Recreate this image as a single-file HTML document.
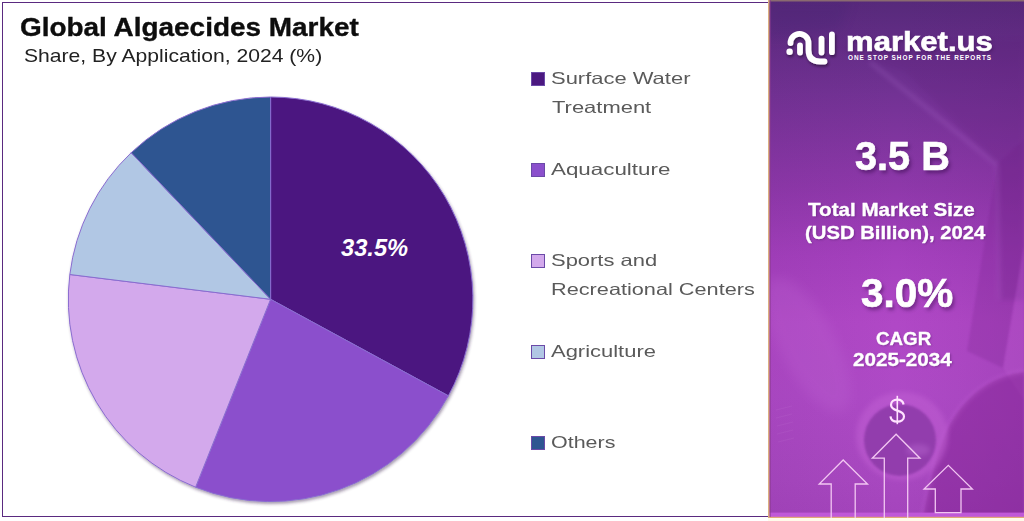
<!DOCTYPE html>
<html><head><meta charset="utf-8">
<style>
*{margin:0;padding:0;box-sizing:border-box}
html,body{width:1024px;height:521px;overflow:hidden;background:#fff;font-family:"Liberation Sans",sans-serif}
#left{position:absolute;left:1.6px;top:1.5px;width:768px;height:515.4px;border:1.5px solid #5a2a80;border-right:none;background:#fff}
.t{position:absolute;white-space:nowrap;line-height:1}
#title{left:20px;top:15.4px;font-size:25.2px;-webkit-text-stroke:0.35px #0d0d0d;font-weight:bold;color:#0d0d0d;transform:scaleX(1.1085);transform-origin:0 0}
#sub{left:24px;top:48.2px;font-size:17.7px;color:#222;transform:scaleX(1.194);transform-origin:0 0}
.lg{position:absolute;width:14px;height:14px;border:1px solid #6b4aa8}
.lt{position:absolute;white-space:nowrap;line-height:1;font-size:16.5px;color:#5a5a5a;transform:scaleX(1.33);transform-origin:0 0}
#right{position:absolute;left:768px;top:0;width:256px;height:521px;overflow:hidden;
 background:linear-gradient(180deg,#56236f 0%,#6a3090 18%,#8838a8 38%,#a03cba 57%,#a844c0 77%,#9a3aac 100%)}
.w{position:absolute;white-space:nowrap;line-height:1;color:#fff;font-weight:bold;transform-origin:0 0}
.big{text-shadow:2px 3px 4px rgba(40,0,60,0.45);-webkit-text-stroke:0.7px #fff}
.sm{text-shadow:1px 1px 2px rgba(40,0,60,0.3);-webkit-text-stroke:0.35px #fff}
.bg{position:absolute;left:0;top:0;width:256px;height:521px}
</style></head><body>
<div id="left"></div>
<div class="t" id="title">Global Algaecides Market</div>
<div class="t" id="sub">Share, By Application, 2024 (%)</div>

<svg style="position:absolute;left:0;top:0" width="768" height="521" viewBox="0 0 768 521">
<defs><filter id="sh" x="-10%" y="-10%" width="120%" height="120%"><feDropShadow dx="1" dy="2" stdDeviation="1.8" flood-color="#3a2050" flood-opacity="0.45"/></filter></defs>
<g filter="url(#sh)" stroke="#8a6cd0" stroke-width="1" stroke-linejoin="round">
<path fill="#4b1880" d="M270.6,299.3 L270.60,97.00 A202.3,202.3 0 0 1 448.38,395.83 Z"/>
<path fill="#8b50cc" d="M270.6,299.3 L448.38,395.83 A202.3,202.3 0 0 1 195.60,487.19 Z"/>
<path fill="#d3a9ec" d="M270.6,299.3 L195.60,487.19 A202.3,202.3 0 0 1 69.83,274.51 Z"/>
<path fill="#b1c7e4" d="M270.6,299.3 L69.83,274.51 A202.3,202.3 0 0 1 131.17,152.73 Z"/>
<path fill="#2e5591" d="M270.6,299.3 L131.17,152.73 A202.3,202.3 0 0 1 270.60,97.00 Z"/>
</g>
<text x="341" y="256.2" font-family="Liberation Sans" font-weight="bold" font-style="italic" font-size="23.7" fill="#fff">33.5%</text>
</svg>

<div class="lg" style="left:531px;top:72px;background:#4b1880"></div>
<div class="lt" style="left:551px;top:70px">Surface Water</div>
<div class="lt" style="left:552px;top:99px">Treatment</div>
<div class="lg" style="left:531px;top:163px;background:#8b50cc"></div>
<div class="lt" style="left:551px;top:161px;transform:scaleX(1.355)">Aquaculture</div>
<div class="lg" style="left:531px;top:254px;background:#d3a9ec"></div>
<div class="lt" style="left:551px;top:252px">Sports and</div>
<div class="lt" style="left:551px;top:281px;transform:scaleX(1.315)">Recreational Centers</div>
<div class="lg" style="left:531px;top:345px;background:#b1c7e4"></div>
<div class="lt" style="left:551px;top:343px">Agriculture</div>
<div class="lg" style="left:531px;top:436px;background:#2e5591"></div>
<div class="lt" style="left:551px;top:434px;transform:scaleX(1.30)">Others</div>

<div id="right">
<svg class="bg" width="256" height="521" viewBox="768 0 256 521">
<defs>
<linearGradient id="gv" x1="0" y1="0" x2="0" y2="521" gradientUnits="userSpaceOnUse">
<stop offset="0" stop-color="#56297a"/>
<stop offset="0.18" stop-color="#723294"/>
<stop offset="0.36" stop-color="#8e38aa"/>
<stop offset="0.49" stop-color="#a440bd"/>
<stop offset="0.62" stop-color="#b048c6"/>
<stop offset="0.76" stop-color="#ae4ac6"/>
<stop offset="0.92" stop-color="#a848c0"/>
<stop offset="1" stop-color="#a444bc"/>
</linearGradient>
<linearGradient id="gr" x1="768" y1="0" x2="1024" y2="0" gradientUnits="userSpaceOnUse">
<stop offset="0" stop-color="#5a1a70" stop-opacity="0.08"/>
<stop offset="0.5" stop-color="#5a1a70" stop-opacity="0"/>
<stop offset="0.75" stop-color="#5a1a70" stop-opacity="0.05"/>
<stop offset="1" stop-color="#5a1a70" stop-opacity="0.12"/>
</linearGradient>
<filter id="bl" x="-50%" y="-50%" width="200%" height="200%"><feGaussianBlur stdDeviation="6"/></filter>
<filter id="bl3" x="-50%" y="-50%" width="200%" height="200%"><feGaussianBlur stdDeviation="1.2"/></filter>
<filter id="bl2" x="-50%" y="-50%" width="200%" height="200%"><feGaussianBlur stdDeviation="2.5"/></filter>
</defs>
<rect x="768" y="0" width="256" height="521" fill="url(#gv)"/>
<rect x="768" y="0" width="256" height="521" fill="url(#gr)"/>
<path d="M830,45 L905,72 L997,165 L1000,300 L1024,300 L1024,40 Z" fill="#5a1c74" opacity="0.18" filter="url(#bl2)"/>
<path d="M870,62 L997,165 L999,300" fill="none" stroke="#c080e0" stroke-width="3" opacity="0.25" filter="url(#bl2)"/>
<path d="M997,165 L1024,140 L1024,245 L1003,368 L967,351 Z" fill="#6e1a84" opacity="0.2" filter="url(#bl3)"/>
<path d="M1024,245 L1024,400 L1003,368 Z" fill="#d070e0" opacity="0.15" filter="url(#bl3)"/>
<path d="M768,0 L850,0 L840,30 L768,40 Z" fill="#3a2070" opacity="0.18" filter="url(#bl)"/>
<ellipse cx="808" cy="345" rx="28" ry="75" transform="rotate(-28 808 345)" fill="#c46cd8" opacity="0.22" filter="url(#bl)"/>
<g stroke="#c880d8" stroke-width="1" opacity="0.14"><path d="M776,410 L792,406 M776,418 L792,414 M777,426 L793,422 M777,434 L793,430 M778,442 L794,438"/></g>
<path d="M1024,372 C990,376 962,398 947,430 C934,460 927,495 922,521 L1024,521 Z" fill="#7c1e8c" opacity="0.42" filter="url(#bl3)"/>
<path d="M1024,372 C990,376 962,398 947,430 C934,460 927,495 922,521" fill="none" stroke="#d070e0" stroke-width="3" opacity="0.3" filter="url(#bl2)"/>
<ellipse cx="902" cy="436" rx="46" ry="44" fill="#c464d6" opacity="0.45" filter="url(#bl2)"/>
<circle cx="900" cy="440" r="36" fill="#8a38a6" opacity="0.8" filter="url(#bl3)"/>
<ellipse cx="918" cy="450" rx="12" ry="6" fill="#c070d8" opacity="0.35" filter="url(#bl2)"/>
</svg>
<svg style="position:absolute;left:0;top:0" width="256" height="521" viewBox="768 0 256 521">
<defs><filter id="ls" x="-30%" y="-30%" width="160%" height="160%"><feGaussianBlur in="SourceAlpha" stdDeviation="1.5"/><feOffset dx="1" dy="2"/><feComponentTransfer><feFuncA type="linear" slope="0.45"/></feComponentTransfer><feMerge><feMergeNode/><feMergeNode in="SourceGraphic"/></feMerge></filter></defs>
<rect x="768" y="512.6" width="256" height="4.6" fill="#c058d8"/>
<rect x="768" y="516.8" width="256" height="1.2" fill="#e2a878"/>
<rect x="768" y="518" width="256" height="3" fill="#fffbea"/>
<g fill="none" stroke="#f2c6f2" stroke-width="1.3" stroke-linejoin="miter">
<path d="M831.2,518 L831.2,484 L819.2,484 L843.2,460 L867.5,484 L855.2,484 L855.2,518"/>
<path d="M884.3,518 L884.3,458.2 L872.3,458.2 L896.1,434.2 L920,458.2 L907.7,458.2 L907.7,518"/>
<path d="M935.3,512.6 L935.3,489 L924,489 L948.3,465.3 L972.4,489 L961,489 L961,512.6 Z"/>
</g>
<g fill="none" stroke="#ffe2ff" stroke-width="2.2" stroke-linecap="butt">
<path d="M897.3,395.8 L897.3,424.2" stroke-width="1.6"/>
<path d="M903.6,404.5 C903,401 900.5,399.6 897.3,399.6 C893.5,399.6 891,401.8 891,404.8 C891,408 893.5,409.5 897.3,410.6 C901.5,411.8 904,413.5 904,416.5 C904,419.8 901,421.6 897.3,421.6 C893.5,421.6 890.8,419.5 890.5,416.3"/>
</g>
<rect x="768" y="0" width="256" height="1.5" fill="#8a6a70"/>
<rect x="767.6" y="0" width="2" height="518" fill="#dcae80"/>
<rect x="769.6" y="0" width="1.4" height="517" fill="#8a3a8e" opacity="0.55"/>
<g filter="url(#ls)" fill="none" stroke="#fff" stroke-width="5.8" stroke-linecap="round">
<circle cx="789.6" cy="51.8" r="3.2" fill="#fff" stroke="none"/>
<path d="M800,45.5 L800,52.5"/>
<path d="M790.5,43 A9,9.2 0 0 1 808.5,43 L808.5,50 Q808.5,61.5 820,61.5 L824.5,61.5"/>
<path d="M821.5,38.6 L821.5,52.5"/>
<path d="M831.9,34.5 L831.9,52.2"/>
</g>
</svg>
<div class="w" id="mk" style="transform:scaleX(1.13);left:78px;-webkit-text-stroke:0.6px #fff;text-shadow:1px 2px 3px rgba(40,0,60,0.35);top:28.3px;font-size:27.5px">market.us</div>
<div class="w" id="tag" style="left:80px;top:55.2px;font-size:6.4px;letter-spacing:1px">ONE STOP SHOP FOR THE REPORTS</div>
<div class="w big" id="v1" style="transform:scaleX(0.968);left:86.7px;top:136.3px;font-size:41px">3.5 B</div>
<div class="w sm" id="l1" style="transform:scaleX(1.114);left:40.4px;top:200.7px;font-size:18.5px">Total Market Size</div>
<div class="w sm" id="l2" style="transform:scaleX(1.096);left:37px;top:223.7px;font-size:18.5px">(USD Billion), 2024</div>
<div class="w big" id="v2" style="transform:scaleX(0.976);left:92.7px;top:272.2px;font-size:41.5px">3.0%</div>
<div class="w sm" id="l3" style="transform:scaleX(1.015);left:107.5px;top:329.6px;font-size:18.5px">CAGR</div>
<div class="w sm" id="l4" style="transform:scaleX(1.117);left:85.3px;top:351.3px;font-size:18.5px">2025-2034</div>
</div>
</body></html>
